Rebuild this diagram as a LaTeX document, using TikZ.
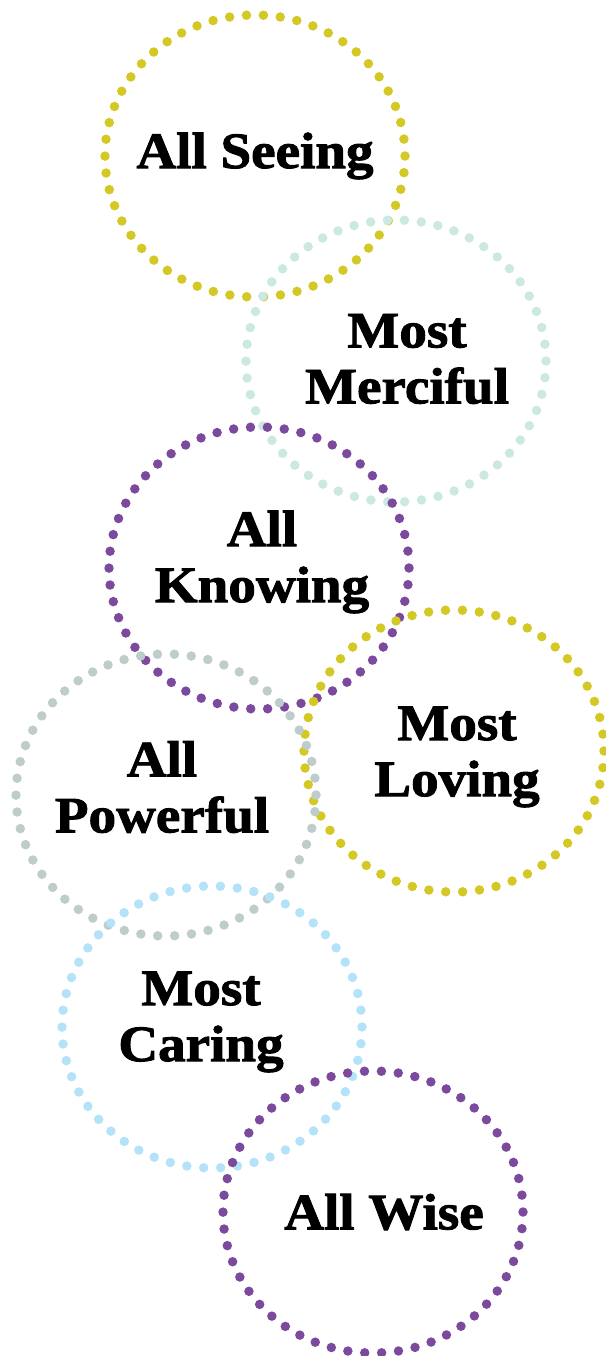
\documentclass[tikz,border=0pt]{standalone}
\usepackage{fontspec}
\setmainfont{Liberation Serif}
\newfontfamily\heavyserif[FakeBold=1.8,FakeStretch=1.08]{Liberation Serif Bold}
\usetikzlibrary{shapes.geometric}

\definecolor{ringyellow}{RGB}{212,200,36}
\definecolor{ringteal}{RGB}{204,232,226}
\definecolor{ringpurple}{RGB}{124,74,156}
\definecolor{ringgray}{RGB}{190,205,203}
\definecolor{ringblue}{RGB}{180,226,248}

\begin{document}
\begin{tikzpicture}[x=1pt,y=-1pt,
    ring/.style={ellipse,draw=#1,line width=9.5pt,line cap=round,
      dash pattern=on 0pt off 16.94pt,minimum width=300pt,minimum height=282pt,
      inner sep=0pt},
    word/.style={align=center,font=\heavyserif\fontsize{51}{56}\selectfont}]
  \useasboundingbox (0,0) rectangle (605,1356);

  % dotted rings
  \node[ring=ringyellow] (seeing) at (255,156) {};
  \node[ring=ringteal] (merciful) at (396,361) {};
  \node[ring=ringpurple] (knowing) at (259,568) {};
  \node[ring=ringyellow] (loving) at (454,751) {};
  \node[ring=ringgray] (powerful) at (166,795) {};
  \node[ring=ringblue] (caring) at (212,1027) {};
  \node[ring=ringpurple] (wise) at (373,1212) {};

  % names
  \node[word] (seeing-text) at (255,156) {All Seeing};
  \node[word] (merciful-text) at (407,359) {Most\\Merciful};
  \node[word] (knowing-text) at (262,562) {All\\Knowing};
  \node[word] (loving-text) at (457,757) {Most\\Loving};
  \node[word] (powerful-text) at (162,787) {All\\Powerful};
  \node[word] (caring-text) at (201,1022) {Most\\Caring};
  \node[word] (wise-text) at (384,1212) {All Wise};
\end{tikzpicture}
\end{document}
